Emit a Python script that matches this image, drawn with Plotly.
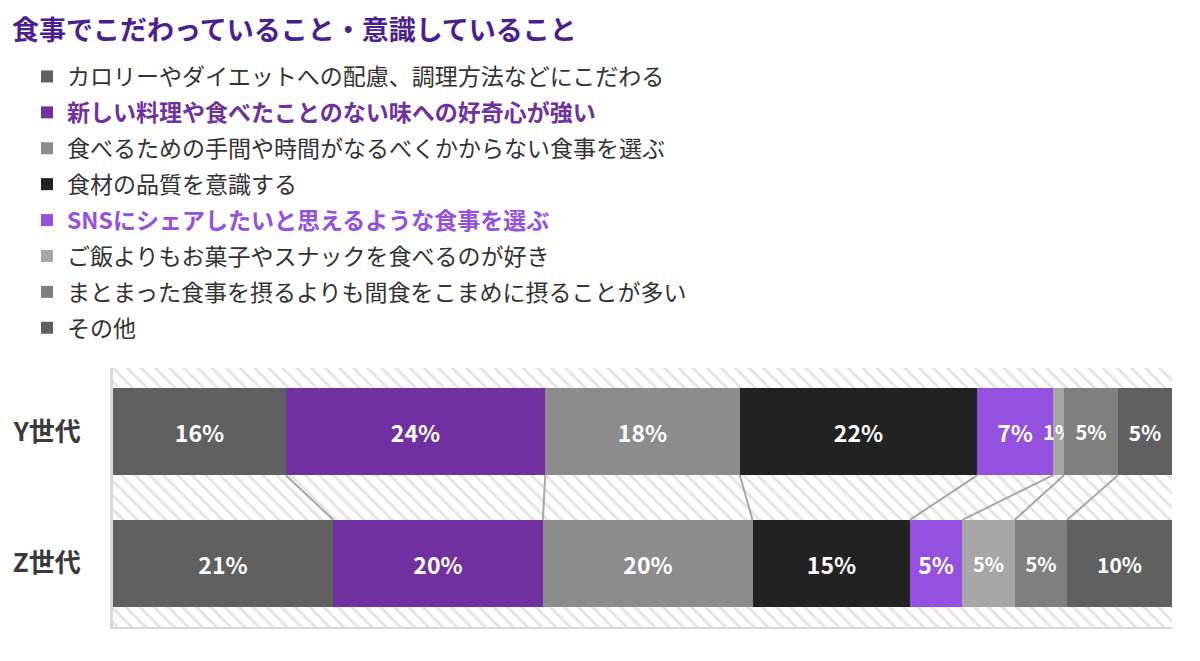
import numpy as np
import plotly.graph_objects as go

# 回答項目（凡例の順）
items = [
    "カロリーやダイエットへの配慮、調理方法などにこだわる",
    "新しい料理や食べたことのない味への好奇心が強い",
    "食べるための手間や時間がなるべくかからない食事を選ぶ",
    "食材の品質を意識する",
    "SNSにシェアしたいと思えるような食事を選ぶ",
    "ご飯よりもお菓子やスナックを食べるのが好き",
    "まとまった食事を摂るよりも間食をこまめに摂ることが多い",
    "その他",
]
generations = ["Y世代", "Z世代"]

# 表示されている割合（%）
y_values = [16, 24, 18, 22, 7, 1, 5, 5]
z_values = [21, 20, 20, 15, 5, 5, 5, 10]

colors = ["#606060", "#7030a0", "#8c8c8c", "#222222",
          "#9450de", "#a6a6a6", "#7f7f7f", "#606060"]
legend_colors = ["#333333", "#7030a0", "#333333", "#333333",
                 "#9450de", "#333333", "#333333", "#333333"]
label_sizes = [23, 23, 23, 23, 23, 20, 20, 21]

FONT = "Noto Sans CJK JP"
POS = {"Y世代": 1, "Z世代": 0}
BAR_W = 0.66
W, H = 1192, 653  # ページ本文の余白8pxぶん小さく

# 帯の長さは合計を100%にそろえる
y_share = np.array(y_values) / sum(y_values) * 100
z_share = np.array(z_values) / sum(z_values) * 100

fig = go.Figure()

# 背景の斜線
fig.add_trace(go.Bar(
    x=[100], y=[0.5], base=0, width=[1.97], orientation="h",
    marker=dict(color="white", line_width=0,
                pattern=dict(shape="\\", fgcolor="#cccccc", bgcolor="white",
                             size=10, solidity=0.3)),
    showlegend=False, hoverinfo="skip",
))

for i, name in enumerate(items):
    label = name
    if legend_colors[i] != "#333333":
        label = f"<b>{name}</b>"
    fig.add_trace(go.Bar(
        name=f"<span style='color:{legend_colors[i]}'>{label}</span>",
        legendgroup=f"g{i}",
        y=[POS["Y世代"], POS["Z世代"]],
        x=[y_share[i], z_share[i]],
        width=BAR_W,
        orientation="h",
        marker=dict(color=colors[i], line_width=0),
        text=[f"{y_values[i]}%", f"{z_values[i]}%"],
        textposition="inside",
        insidetextanchor="middle",
        constraintext="none",
        textangle=0,
        textfont=dict(family=FONT, size=label_sizes[i], color="white", weight="bold"),
        hovertemplate="%{text}<extra></extra>",
    ))

# 帯の区切りをつなぐ線
cum_y = np.cumsum(y_share)[:-1]
cum_z = np.cumsum(z_share)[:-1]
lx, ly = [], []
for a, b in zip(cum_y, cum_z):
    lx += [a, b, None]
    ly += [POS["Y世代"] - BAR_W / 2, POS["Z世代"] + BAR_W / 2, None]
fig.add_trace(go.Scatter(
    x=lx, y=ly, mode="lines",
    line=dict(color="#a8a8a8", width=2),
    showlegend=False, hoverinfo="skip",
))

fig.update_layout(
    width=W, height=H,
    barmode="stack",
    bargap=0,
    plot_bgcolor="white",
    paper_bgcolor="white",
    margin=dict(l=105, r=28, t=360, b=34, autoexpand=False),
    font=dict(family=FONT, color="#333333"),
    title=dict(
        text="<b>食事でこだわっていること・意識していること</b>",
        font=dict(family=FONT, size=27, color="#4b1f8f"),
        x=4 / W, xref="container", xanchor="left",
        y=1 - 23 / H, yref="container", yanchor="middle",
    ),
    legend=dict(
        orientation="v",
        traceorder="grouped",
        x=19 / W, xref="container", xanchor="left",
        y=1 - 47 / H, yref="container", yanchor="top",
        font=dict(family=FONT, size=23, color="#333333"),
        tracegroupgap=3,
        itemwidth=30,
        bgcolor="rgba(0,0,0,0)",
    ),
    xaxis=dict(range=[0, 100], showgrid=False, zeroline=False,
               showticklabels=False, ticks="",
               showline=True, linecolor="#d9d9d9", linewidth=2),
    yaxis=dict(range=[-0.485, 1.485], showgrid=False, zeroline=False,
               tickvals=[POS[g] for g in generations], ticktext=generations,
               tickfont=dict(family=FONT, size=26, color="#3a3a3a", weight="bold"),
               ticks="", ticklabelstandoff=24,
               showline=True, linecolor="#d9d9d9", linewidth=3),
)

fig.write_html("out.html")
